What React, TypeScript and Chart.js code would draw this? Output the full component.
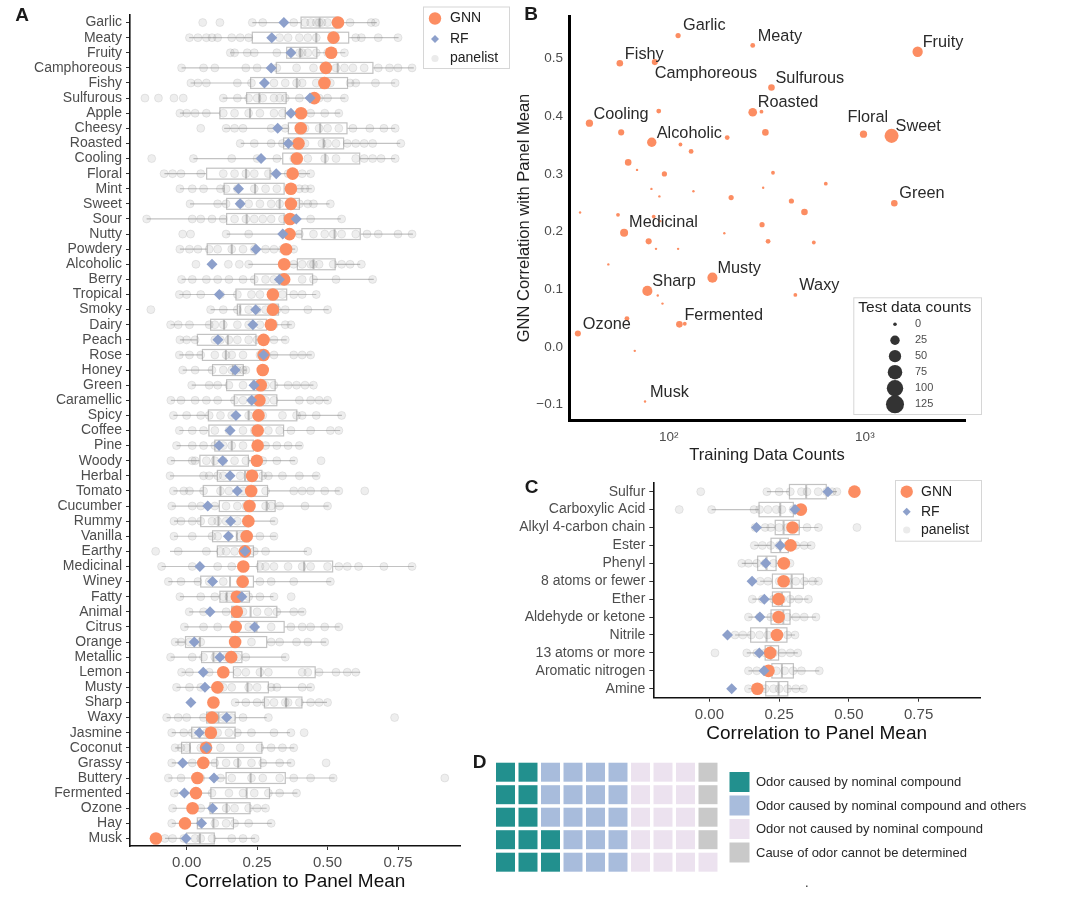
import React, { useEffect, useRef } from 'react';
import { Chart, registerables } from 'chart.js';
Chart.register(...registerables);

const FONT = "'Liberation Sans', Arial, Helvetica, sans-serif";
const ORANGE = '#FC8D62';
const BLUE = '#8DA0CB';
const AXIS_TEXT = '#4D4D4D';
const BOX_LINE = '#C2C2C2';

// ---------------- Panel A ----------------
const A_LABELS = ['Garlic', 'Meaty', 'Fruity', 'Camphoreous', 'Fishy', 'Sulfurous', 'Apple', 'Cheesy', 'Roasted', 'Cooling', 'Floral', 'Mint', 'Sweet', 'Sour', 'Nutty', 'Powdery', 'Alcoholic', 'Berry', 'Tropical', 'Smoky', 'Dairy', 'Peach', 'Rose', 'Honey', 'Green', 'Caramellic', 'Spicy', 'Coffee', 'Pine', 'Woody', 'Herbal', 'Tomato', 'Cucumber', 'Rummy', 'Vanilla', 'Earthy', 'Medicinal', 'Winey', 'Fatty', 'Animal', 'Citrus', 'Orange', 'Metallic', 'Lemon', 'Musty', 'Sharp', 'Waxy', 'Jasmine', 'Coconut', 'Grassy', 'Buttery', 'Fermented', 'Ozone', 'Hay', 'Musk'];

const A_GNN = [0.537, 0.521, 0.513, 0.494, 0.489, 0.453, 0.406, 0.405, 0.397, 0.391, 0.376, 0.37, 0.37, 0.367, 0.365, 0.353, 0.346, 0.346, 0.306, 0.306, 0.299, 0.273, 0.273, 0.27, 0.263, 0.258, 0.255, 0.252, 0.252, 0.249, 0.232, 0.229, 0.223, 0.219, 0.213, 0.207, 0.201, 0.199, 0.178, 0.178, 0.174, 0.172, 0.158, 0.13, 0.109, 0.095, 0.09, 0.086, 0.069, 0.059, 0.038, 0.033, 0.021, -0.006, -0.109];

const A_RF = [0.345, 0.302, 0.37, 0.30, 0.276, 0.438, 0.37, 0.323, 0.361, 0.264, 0.318, 0.184, 0.19, 0.389, 0.341, 0.246, 0.09, 0.329, 0.116, 0.245, 0.235, 0.111, 0.273, 0.172, 0.239, 0.231, 0.175, 0.154, 0.115, 0.128, 0.154, 0.18, 0.075, 0.156, 0.148, 0.207, 0.047, 0.092, 0.196, 0.083, 0.241, 0.027, 0.118, 0.059, 0.065, 0.015, 0.142, 0.045, 0.071, -0.014, 0.097, -0.008, 0.092, 0.053, -0.002];

// [lower whisker, q1, median, q3, upper whisker]
const A_BOX = [
  [0.233, 0.406, 0.472, 0.533, 0.675], [0.009, 0.233, 0.46, 0.575, 0.752], [0.154, 0.355, 0.403, 0.462, 0.563],
  [-0.018, 0.318, 0.536, 0.661, 0.806], [0.014, 0.227, 0.391, 0.571, 0.74], [0.128, 0.213, 0.258, 0.353, 0.563],
  [-0.024, 0.118, 0.225, 0.35, 0.545], [0.133, 0.361, 0.474, 0.569, 0.74], [0.192, 0.344, 0.486, 0.557, 0.758],
  [0.024, 0.341, 0.492, 0.614, 0.74], [-0.079, 0.071, 0.211, 0.296, 0.438], [-0.024, 0.133, 0.243, 0.346, 0.444],
  [0.012, 0.142, 0.33, 0.40, 0.507], [-0.142, 0.142, 0.213, 0.346, 0.547], [0.142, 0.409, 0.525, 0.616, 0.803],
  [-0.024, 0.073, 0.16, 0.243, 0.385], [0.219, 0.393, 0.45, 0.527, 0.616], [-0.018, 0.241, 0.33, 0.447, 0.664],
  [-0.026, 0.175, 0.30, 0.355, 0.46], [0.085, 0.18, 0.19, 0.326, 0.504], [-0.057, 0.085, 0.133, 0.284, 0.373],
  [-0.024, 0.038, 0.146, 0.246, 0.355], [-0.026, 0.056, 0.139, 0.267, 0.444], [-0.014, 0.092, 0.164, 0.201, 0.213],
  [0.018, 0.142, 0.237, 0.314, 0.45], [-0.056, 0.169, 0.267, 0.32, 0.504], [-0.047, 0.077, 0.22, 0.391, 0.551],
  [-0.026, 0.079, 0.24, 0.344, 0.545], [-0.036, 0.10, 0.16, 0.237, 0.409], [-0.056, 0.047, 0.095, 0.219, 0.385],
  [-0.059, 0.109, 0.207, 0.267, 0.468], [-0.047, 0.059, 0.12, 0.287, 0.543], [-0.053, 0.116, 0.284, 0.314, 0.504],
  [-0.045, 0.05, 0.113, 0.219, 0.314], [-0.045, 0.092, 0.178, 0.219, 0.318], [-0.059, 0.109, 0.2, 0.237, 0.427],
  [-0.089, 0.252, 0.417, 0.518, 0.806], [-0.065, 0.05, 0.154, 0.237, 0.513], [-0.024, 0.118, 0.142, 0.223, 0.308],
  [0.009, 0.16, 0.227, 0.32, 0.417], [-0.008, 0.16, 0.248, 0.346, 0.543], [-0.041, -0.004, 0.047, 0.284, 0.495],
  [-0.057, 0.053, 0.095, 0.196, 0.353], [-0.018, 0.166, 0.264, 0.456, 0.616], [-0.036, 0.113, 0.216, 0.29, 0.444],
  [0.172, 0.276, 0.353, 0.409, 0.498], [-0.071, 0.071, 0.113, 0.172, 0.284], [-0.053, 0.018, 0.047, 0.172, 0.367],
  [-0.041, -0.018, 0.012, 0.267, 0.382], [-0.053, 0.107, 0.183, 0.263, 0.371], [-0.065, 0.14, 0.227, 0.35, 0.525],
  [-0.044, 0.086, 0.213, 0.294, 0.393], [-0.05, 0.083, 0.142, 0.225, 0.284], [-0.053, 0.038, 0.095, 0.166, 0.302],
  [-0.077, 0.0, 0.047, 0.098, 0.243],
];

const A_PANEL = [
  [0.057, 0.118, 0.233, 0.27, 0.38, 0.42, 0.44, 0.46, 0.47, 0.48, 0.5, 0.53, 0.58, 0.655, 0.67],
  [0.01, 0.04, 0.07, 0.09, 0.11, 0.16, 0.19, 0.22, 0.33, 0.36, 0.40, 0.43, 0.46, 0.52, 0.6, 0.62, 0.68, 0.75],
  [0.155, 0.17, 0.215, 0.24, 0.32, 0.37, 0.4, 0.41, 0.43, 0.46, 0.5, 0.56],
  [-0.018, 0.06, 0.1, 0.21, 0.25, 0.32, 0.39, 0.45, 0.5, 0.53, 0.56, 0.59, 0.63, 0.68, 0.72, 0.75, 0.8],
  [0.015, 0.04, 0.07, 0.18, 0.23, 0.31, 0.35, 0.39, 0.41, 0.46, 0.51, 0.58, 0.6, 0.67, 0.74],
  [-0.148, -0.1, -0.045, -0.012, 0.13, 0.18, 0.22, 0.25, 0.27, 0.31, 0.33, 0.35, 0.4, 0.47, 0.5, 0.56],
  [-0.024, 0.0, 0.03, 0.07, 0.13, 0.17, 0.22, 0.26, 0.31, 0.34, 0.44, 0.49, 0.54],
  [0.05, 0.14, 0.17, 0.2, 0.3, 0.35, 0.42, 0.47, 0.5, 0.54, 0.59, 0.65, 0.7, 0.74],
  [0.19, 0.24, 0.3, 0.34, 0.38, 0.42, 0.48, 0.5, 0.53, 0.57, 0.6, 0.63, 0.66, 0.76],
  [-0.124, 0.024, 0.16, 0.25, 0.32, 0.38, 0.43, 0.49, 0.53, 0.6, 0.63, 0.66, 0.69, 0.74],
  [-0.08, -0.05, -0.02, 0.05, 0.13, 0.17, 0.21, 0.24, 0.29, 0.36, 0.41, 0.44],
  [-0.024, 0.02, 0.06, 0.12, 0.14, 0.18, 0.24, 0.28, 0.32, 0.4, 0.42, 0.44],
  [0.012, 0.11, 0.14, 0.19, 0.22, 0.26, 0.3, 0.33, 0.4, 0.43, 0.45, 0.51],
  [-0.142, 0.02, 0.05, 0.09, 0.13, 0.17, 0.21, 0.24, 0.27, 0.3, 0.34, 0.38, 0.44, 0.55],
  [-0.014, 0.014, 0.14, 0.22, 0.4, 0.45, 0.49, 0.52, 0.55, 0.6, 0.64, 0.68, 0.75, 0.8],
  [-0.024, 0.01, 0.04, 0.08, 0.11, 0.16, 0.2, 0.24, 0.28, 0.31, 0.34, 0.38],
  [0.033, 0.148, 0.187, 0.22, 0.38, 0.41, 0.44, 0.45, 0.47, 0.52, 0.55, 0.58, 0.62],
  [-0.018, 0.02, 0.07, 0.11, 0.15, 0.2, 0.24, 0.28, 0.31, 0.35, 0.41, 0.45, 0.53, 0.66],
  [-0.026, 0.0, 0.05, 0.12, 0.18, 0.23, 0.26, 0.3, 0.34, 0.38, 0.41, 0.46],
  [-0.127, 0.085, 0.13, 0.18, 0.22, 0.25, 0.28, 0.32, 0.35, 0.43, 0.5],
  [-0.057, -0.03, 0.01, 0.08, 0.1, 0.13, 0.18, 0.22, 0.26, 0.31, 0.35, 0.37],
  [-0.024, 0.0, 0.03, 0.1, 0.12, 0.15, 0.18, 0.22, 0.25, 0.31, 0.35],
  [-0.026, 0.01, 0.05, 0.1, 0.14, 0.16, 0.2, 0.26, 0.31, 0.38, 0.41, 0.44],
  [-0.014, 0.03, 0.09, 0.13, 0.16, 0.18, 0.2, 0.21],
  [0.018, 0.08, 0.11, 0.15, 0.2, 0.24, 0.28, 0.31, 0.36, 0.39, 0.42, 0.45],
  [-0.056, -0.02, 0.03, 0.07, 0.11, 0.17, 0.2, 0.23, 0.28, 0.31, 0.4, 0.44, 0.47, 0.5],
  [-0.047, 0.0, 0.05, 0.08, 0.12, 0.16, 0.22, 0.27, 0.34, 0.39, 0.41, 0.46, 0.55],
  [-0.026, 0.02, 0.06, 0.1, 0.15, 0.2, 0.24, 0.29, 0.33, 0.37, 0.44, 0.51, 0.54],
  [-0.036, 0.02, 0.06, 0.1, 0.13, 0.16, 0.2, 0.25, 0.28, 0.32, 0.36, 0.4],
  [-0.056, 0.02, 0.03, 0.07, 0.1, 0.13, 0.17, 0.21, 0.27, 0.32, 0.38, 0.477],
  [-0.059, 0.06, 0.08, 0.11, 0.13, 0.19, 0.23, 0.27, 0.29, 0.34, 0.4, 0.46],
  [-0.047, -0.01, 0.01, 0.06, 0.12, 0.15, 0.2, 0.28, 0.38, 0.41, 0.44, 0.49, 0.54, 0.632],
  [-0.053, 0.02, 0.05, 0.1, 0.14, 0.18, 0.21, 0.28, 0.3, 0.33, 0.42, 0.5],
  [-0.045, -0.02, 0.02, 0.05, 0.09, 0.11, 0.14, 0.18, 0.22, 0.31],
  [-0.045, 0.02, 0.09, 0.11, 0.15, 0.19, 0.22, 0.26, 0.31],
  [-0.11, -0.03, 0.07, 0.12, 0.14, 0.17, 0.2, 0.24, 0.28, 0.43],
  [-0.089, 0.02, 0.11, 0.16, 0.26, 0.28, 0.31, 0.36, 0.41, 0.44, 0.5, 0.54, 0.57, 0.61, 0.7, 0.8],
  [-0.065, -0.02, 0.04, 0.08, 0.13, 0.19, 0.26, 0.3, 0.38, 0.51],
  [-0.024, 0.05, 0.1, 0.13, 0.15, 0.19, 0.22, 0.26, 0.31, 0.371],
  [0.009, 0.06, 0.14, 0.2, 0.25, 0.29, 0.32, 0.38, 0.41],
  [-0.008, 0.06, 0.11, 0.17, 0.22, 0.3, 0.37, 0.41, 0.44, 0.49, 0.54],
  [-0.041, -0.02, 0.01, 0.05, 0.17, 0.23, 0.3, 0.33, 0.39, 0.43, 0.49],
  [-0.057, 0.02, 0.06, 0.1, 0.14, 0.18, 0.21, 0.35],
  [-0.018, 0.01, 0.08, 0.18, 0.21, 0.26, 0.29, 0.41, 0.43, 0.47, 0.53, 0.57, 0.6],
  [-0.036, 0.01, 0.05, 0.13, 0.16, 0.22, 0.25, 0.3, 0.32, 0.41, 0.44],
  [0.172, 0.21, 0.25, 0.28, 0.31, 0.35, 0.36, 0.4, 0.44, 0.47, 0.5],
  [-0.071, -0.03, 0.0, 0.06, 0.1, 0.13, 0.16, 0.2, 0.29, 0.738],
  [-0.053, -0.01, 0.02, 0.07, 0.11, 0.15, 0.18, 0.23, 0.31, 0.37, 0.417],
  [-0.041, -0.02, 0.0, 0.05, 0.12, 0.19, 0.26, 0.3, 0.34, 0.38],
  [-0.053, 0.02, 0.1, 0.14, 0.18, 0.23, 0.27, 0.33, 0.37, 0.495],
  [-0.065, -0.02, 0.05, 0.12, 0.16, 0.23, 0.27, 0.33, 0.38, 0.44, 0.52, 0.916],
  [-0.044, 0.03, 0.09, 0.15, 0.2, 0.24, 0.29, 0.33, 0.39],
  [-0.05, 0.05, 0.09, 0.14, 0.17, 0.22, 0.25, 0.28],
  [-0.053, 0.0, 0.05, 0.1, 0.14, 0.17, 0.22, 0.3],
  [-0.077, -0.05, -0.01, 0.03, 0.05, 0.09, 0.16, 0.2, 0.243],
];

const CORR_TICKS = [0, 0.25, 0.5, 0.75];
const CORR_MIN = -0.201;
const CORR_MAX = 0.97;

// ---------------- Panel B ----------------
const B_NAMES = ['Garlic', 'Meaty', 'Fruity', 'Fishy', 'Camphoreous', 'Sulfurous', 'Roasted', '', 'Cooling', '', '', 'Alcoholic', '', '', 'Floral', 'Sweet', '', '', '', '', '', '', '', '', '', '', '', '', '', '', 'Green', '', '', '', '', '', '', 'Medicinal', '', '', '', '', '', '', 'Musty', 'Sharp', '', '', 'Waxy', '', 'Fermented', '', 'Ozone', '', 'Musk'];
const B_TRAIN = [111.6, 268, 1858, 56.3, 84.9, 334, 268, 297, 39.4, 88.9, 57.2, 81.9, 198.6, 311, 984, 1368, 114.7, 130, 62.1, 68.9, 95, 340, 632, 81.6, 133.6, 303, 89.6, 208, 422, 492, 1413, 35.3, 55.1, 83.8, 90.6, 299, 192, 59.2, 79, 86.1, 111.6, 321, 549, 49.2, 167, 77.8, 87.9, 92.9, 442, 61.2, 113.3, 120.7, 34.4, 67.1, 75.7];
const B_GNN = [0.540, 0.523, 0.512, 0.492, 0.494, 0.45, 0.407, 0.408, 0.388, 0.409, 0.372, 0.355, 0.363, 0.372, 0.369, 0.366, 0.351, 0.339, 0.32, 0.307, 0.30, 0.302, 0.283, 0.274, 0.27, 0.276, 0.261, 0.259, 0.253, 0.234, 0.249, 0.233, 0.229, 0.226, 0.218, 0.212, 0.197, 0.198, 0.183, 0.17, 0.17, 0.183, 0.181, 0.143, 0.12, 0.097, 0.089, 0.075, 0.09, 0.049, 0.039, 0.04, 0.023, -0.007, -0.095];
const B_TEST = [4, 3, 32, 9, 7, 9, 20, 1, 12, 3, 7, 25, 3, 9, 12, 69, 1, 3, 9, 0, 4, 1, 1, 0, 0, 0, 0, 4, 4, 9, 9, 0, 1, 1, 0, 4, 0, 16, 7, 0, 0, 3, 1, 0, 30, 30, 0, 0, 1, 3, 9, 1, 7, 0, 0];
const B_SIZE_BREAKS = [0, 25, 50, 75, 100, 125];
const B_YTICKS = [-0.1, 0, 0.1, 0.2, 0.3, 0.4, 0.5];
const B_XTICKS = [100, 1000];

// ---------------- Panel C ----------------
const C_LABELS = ['Sulfur', 'Carboxylic Acid', 'Alkyl 4-carbon chain', 'Ester', 'Phenyl', '8 atoms or fewer', 'Ether', 'Aldehyde or ketone', 'Nitrile', '13 atoms or more', 'Aromatic nitrogen', 'Amine'];
const C_GNN = [0.52, 0.328, 0.298, 0.291, 0.267, 0.266, 0.248, 0.248, 0.242, 0.218, 0.212, 0.172];
const C_RF = [0.425, 0.307, 0.169, 0.254, 0.202, 0.153, 0.197, 0.181, 0.065, 0.179, 0.196, 0.08];
const C_BOX = [
  [0.206, 0.287, 0.347, 0.419, 0.457], [0.008, 0.178, 0.254, 0.301, 0.331], [0.164, 0.236, 0.266, 0.322, 0.391],
  [0.161, 0.221, 0.254, 0.283, 0.365], [0.116, 0.173, 0.205, 0.239, 0.289], [0.182, 0.226, 0.295, 0.337, 0.391],
  [0.154, 0.226, 0.26, 0.289, 0.355], [0.14, 0.221, 0.265, 0.289, 0.382], [0.092, 0.148, 0.205, 0.278, 0.307],
  [0.134, 0.20, 0.22, 0.248, 0.317], [0.14, 0.224, 0.26, 0.301, 0.394], [0.14, 0.202, 0.248, 0.281, 0.337],
];
const C_PANEL = [
  [-0.031, 0.206, 0.25, 0.29, 0.33, 0.35, 0.39, 0.42, 0.44, 0.457],
  [-0.108, 0.008, 0.16, 0.18, 0.21, 0.24, 0.26, 0.3, 0.33],
  [0.164, 0.2, 0.22, 0.25, 0.28, 0.31, 0.35, 0.391, 0.529],
  [0.161, 0.19, 0.22, 0.25, 0.28, 0.31, 0.34, 0.365],
  [0.116, 0.14, 0.17, 0.2, 0.23, 0.26, 0.289],
  [0.182, 0.21, 0.25, 0.28, 0.31, 0.34, 0.37, 0.391],
  [0.154, 0.19, 0.23, 0.26, 0.29, 0.32, 0.355],
  [0.14, 0.18, 0.22, 0.25, 0.28, 0.31, 0.34, 0.382],
  [0.092, 0.12, 0.15, 0.18, 0.21, 0.25, 0.28, 0.307],
  [0.02, 0.134, 0.17, 0.2, 0.23, 0.26, 0.29, 0.317],
  [0.14, 0.17, 0.2, 0.24, 0.27, 0.3, 0.33, 0.394],
  [0.14, 0.17, 0.2, 0.23, 0.25, 0.28, 0.31, 0.337],
];

// ---------------- Panel D ----------------
const D_CATEGORIES = ['Odor caused by nominal compound', 'Odor caused by nominal compound and others', 'Odor not caused by nominal compound', 'Cause of odor cannot be determined'];
const D_COUNTS = [12, 18, 16, 4];
const D_COLORS = ['#22908E', '#A8BCDC', '#ECE2EF', '#C9C9C9'];
const D_ROWS = 5;

// ---------------- helpers ----------------
const sizeOf = (n: number) => 1.2 + 0.7 * Math.sqrt(n);

const font = (size: number, weight: string = 'normal') => ({ family: FONT, size, weight });

function boxPlugin(stats: number[][], halfFrac: number) {
  return {
    id: 'boxes',
    beforeDatasetsDraw(chart: any) {
      const { ctx } = chart;
      const xs = chart.scales.x;
      const ys = chart.scales.y;
      const pitch = Math.abs(ys.getPixelForValue(1) - ys.getPixelForValue(0));
      const h = pitch * halfFrac;
      ctx.save();
      ctx.strokeStyle = BOX_LINE;
      stats.forEach((s, i) => {
        const [lo, q1, med, q3, hi] = s.map((v) => xs.getPixelForValue(v));
        const yc = ys.getPixelForValue(i);
        ctx.lineWidth = 1.2;
        ctx.beginPath();
        ctx.moveTo(lo, yc);
        ctx.lineTo(q1, yc);
        ctx.moveTo(q3, yc);
        ctx.lineTo(hi, yc);
        ctx.stroke();
        ctx.strokeRect(q1, yc - h, q3 - q1, 2 * h);
        ctx.lineWidth = 2;
        ctx.beginPath();
        ctx.moveTo(med, yc - h);
        ctx.lineTo(med, yc + h);
        ctx.stroke();
      });
      ctx.restore();
    },
  };
}

function drawPanelLabel(ctx: any, text: string, x: number, y: number) {
  ctx.save();
  ctx.fillStyle = '#1a1a1a';
  ctx.font = `bold 19px ${FONT}`;
  ctx.textAlign = 'center';
  ctx.textBaseline = 'middle';
  ctx.fillText(text, x, y);
  ctx.restore();
}

function drawPointLegend(ctx: any, bx: number, by: number, bw: number, bh: number, symX: number, rowsY: number[], textX: number) {
  ctx.save();
  ctx.strokeStyle = '#D6D6D6';
  ctx.lineWidth = 1;
  ctx.strokeRect(bx + 0.5, by + 0.5, bw, bh);
  ctx.fillStyle = ORANGE;
  ctx.beginPath();
  ctx.arc(symX, rowsY[0], 6.2, 0, Math.PI * 2);
  ctx.fill();
  ctx.fillStyle = BLUE;
  ctx.beginPath();
  ctx.moveTo(symX, rowsY[1] - 4);
  ctx.lineTo(symX + 4, rowsY[1]);
  ctx.lineTo(symX, rowsY[1] + 4);
  ctx.lineTo(symX - 4, rowsY[1]);
  ctx.closePath();
  ctx.fill();
  ctx.fillStyle = '#EBEBEB';
  ctx.beginPath();
  ctx.arc(symX, rowsY[2], 3.6, 0, Math.PI * 2);
  ctx.fill();
  ctx.fillStyle = '#222';
  ctx.font = `14px ${FONT}`;
  ctx.textAlign = 'left';
  ctx.textBaseline = 'middle';
  ['GNN', 'RF', 'panelist'].forEach((t, i) => ctx.fillText(t, textX, rowsY[i]));
  ctx.restore();
}

function corrChartConfig(labels: string[], gnn: number[], rf: number[], panel: number[][], box: number[][], opts: any) {
  return {
    type: 'scatter',
    data: {
      datasets: [
        {
          label: 'RF',
          data: labels.map((l, i) => ({ x: rf[i], y: l })),
          pointStyle: 'rectRot',
          radius: 5.5,
          backgroundColor: BLUE,
          borderWidth: 0,
          order: 0,
        },
        {
          label: 'GNN',
          data: labels.map((l, i) => ({ x: gnn[i], y: l })),
          pointStyle: 'circle',
          radius: 6.3,
          backgroundColor: ORANGE,
          borderWidth: 0,
          order: 1,
        },
        {
          label: 'panelist',
          data: panel.flatMap((arr, i) => arr.map((v) => ({ x: v, y: labels[i] }))),
          pointStyle: 'circle',
          radius: 4,
          backgroundColor: 'rgba(100,100,100,0.11)',
          borderColor: 'rgba(100,100,100,0.16)',
          borderWidth: 0.8,
          order: 2,
        },
      ],
    },
    options: {
      responsive: false,
      animation: false,
      events: [],
      layout: { padding: opts.padding, autoPadding: false },
      plugins: { legend: { display: false }, tooltip: { enabled: false } },
      scales: {
        x: {
          type: 'linear',
          min: CORR_MIN,
          max: CORR_MAX,
          afterBuildTicks: (s: any) => {
            s.ticks = CORR_TICKS.map((v) => ({ value: v }));
          },
          afterFit: (s: any) => {
            s.height = opts.xHeight;
          },
          ticks: {
            callback: (v: any) => Number(v).toFixed(2),
            font: font(15),
            color: AXIS_TEXT,
            padding: 4,
            maxRotation: 0,
          },
          grid: { display: true, drawOnChartArea: false, drawTicks: true, tickLength: 4, color: '#333', lineWidth: 1 },
          border: { display: true, color: '#111', width: 1.6 },
          title: { display: true, text: 'Correlation to Panel Mean', font: font(19), color: '#111', padding: 0 },
        },
        y: {
          type: 'category',
          labels,
          offset: true,
          afterFit: (s: any) => {
            s.width = opts.yWidth;
          },
          ticks: { font: font(14), color: AXIS_TEXT, padding: 4, autoSkip: false },
          grid: { display: true, drawOnChartArea: false, drawTicks: true, tickLength: 4, color: '#333', lineWidth: 1, offset: false },
          border: { display: true, color: '#111', width: 1.6 },
        },
      },
    },
    plugins: [boxPlugin(box, opts.boxHalf), opts.decor],
  };
}

function makeA() {
  return corrChartConfig(A_LABELS, A_GNN, A_RF, A_PANEL, A_BOX, {
    padding: { top: 15, right: 55, left: 0, bottom: 6 },
    xHeight: 47,
    yWidth: 130,
    boxHalf: 0.36,
    decor: {
      id: 'decorA',
      afterDraw(chart: any) {
        const ctx = chart.ctx;
        drawPanelLabel(ctx, 'A', 22, 16);
        drawPointLegend(ctx, 423, 6.5, 86, 61.5, 435, [18.5, 39, 58.5], 450);
      },
    },
  });
}

function makeC() {
  return corrChartConfig(C_LABELS, C_GNN, C_RF, C_PANEL, C_BOX, {
    padding: { top: 12.7, right: 15, left: 0, bottom: 5 },
    xHeight: 47.3,
    yWidth: 138.3,
    boxHalf: 0.4,
    decor: {
      id: 'decorC',
      afterDraw(chart: any) {
        const ctx = chart.ctx;
        drawPanelLabel(ctx, 'C', 16.5, 17.5);
        drawPointLegend(ctx, 380, 10, 86, 60.7, 391.7, [21.7, 41.7, 60], 406);
      },
    },
  });
}

const B_NUDGE: Record<string, [number, number]> = {
  Garlic: [5, -10], Meaty: [5, -9], Fruity: [5, -9], Fishy: [5, -9], Camphoreous: [0, 11], Sulfurous: [4, -9],
  Roasted: [5, -10], Cooling: [4, -9], Alcoholic: [5, -9], Floral: [-16, -17], Sweet: [4, -9], Green: [5, -10],
  Medicinal: [5, -10], Musty: [5, -9], Sharp: [5, -9], Waxy: [4, -9], Fermented: [5, -9], Ozone: [5, -9], Musk: [5, -9],
};

function makeB() {
  return {
    type: 'bubble',
    data: {
      datasets: [
        {
          label: 'GNN',
          data: B_TRAIN.map((t, i) => ({ x: t, y: B_GNN[i], r: sizeOf(B_TEST[i]) })),
          backgroundColor: ORANGE,
          borderWidth: 0,
        },
      ],
    },
    options: {
      responsive: false,
      animation: false,
      events: [],
      layout: { padding: { top: 16, right: 30, left: 0, bottom: 5 }, autoPadding: false },
      plugins: { legend: { display: false }, tooltip: { enabled: false } },
      scales: {
        x: {
          type: 'logarithmic',
          min: 31,
          max: 3240,
          afterBuildTicks: (s: any) => {
            s.ticks = B_XTICKS.map((v) => ({ value: v }));
          },
          afterFit: (s: any) => {
            s.height = 45;
          },
          ticks: {
            callback: (v: any) => (Number(v) === 100 ? '10²' : '10³'),
            font: font(13.5),
            color: AXIS_TEXT,
            padding: 9,
            maxRotation: 0,
          },
          grid: { display: false, drawTicks: false },
          border: { display: true, color: '#000', width: 3 },
          title: { display: true, text: 'Training Data Counts', font: font(16.5), color: '#222', padding: 0 },
        },
        y: {
          type: 'linear',
          min: -0.127,
          max: 0.574,
          afterBuildTicks: (s: any) => {
            s.ticks = B_YTICKS.map((v) => ({ value: v }));
          },
          afterFit: (s: any) => {
            s.width = 54;
          },
          ticks: {
            callback: (v: any) => {
              const n = Number(v);
              const t = Math.abs(n).toFixed(1);
              return n < -1e-9 ? '\u2212' + t : t;
            },
            font: font(13.5),
            color: AXIS_TEXT,
            padding: 6,
          },
          grid: { display: false, drawTicks: false },
          border: { display: true, color: '#000', width: 3 },
          title: { display: true, text: 'GNN Correlation with Panel Mean', font: font(16.5), color: '#222', padding: 0 },
        },
      },
    },
    plugins: [
      {
        id: 'decorB',
        afterDatasetsDraw(chart: any) {
          const { ctx } = chart;
          const xs = chart.scales.x;
          const ys = chart.scales.y;
          ctx.save();
          ctx.fillStyle = '#2a2a2a';
          ctx.font = `16.3px ${FONT}`;
          ctx.textAlign = 'left';
          ctx.textBaseline = 'middle';
          B_NAMES.forEach((n, i) => {
            if (!n) return;
            const [dx, dy] = B_NUDGE[n] || [5, -9];
            ctx.fillText(n, xs.getPixelForValue(B_TRAIN[i]) + dx, ys.getPixelForValue(B_GNN[i]) + dy);
          });
          ctx.restore();
        },
        afterDraw(chart: any) {
          const { ctx } = chart;
          drawPanelLabel(ctx, 'B', 16, 15);
          // size legend
          ctx.save();
          ctx.fillStyle = '#fff';
          ctx.fillRect(338.3, 297.3, 127.7, 116.7);
          ctx.strokeStyle = '#D6D6D6';
          ctx.lineWidth = 1;
          ctx.strokeRect(338.8, 297.8, 127.7, 116.7);
          ctx.fillStyle = '#222';
          ctx.font = `15.5px ${FONT}`;
          ctx.textAlign = 'left';
          ctx.textBaseline = 'middle';
          ctx.fillText('Test data counts', 343.3, 308);
          const ys = [324.3, 340.2, 356.2, 372.2, 388.2, 404.3];
          B_SIZE_BREAKS.forEach((b, i) => {
            ctx.fillStyle = '#333';
            ctx.beginPath();
            ctx.arc(380, ys[i], sizeOf(b) + (b === 0 ? 0.6 : 0), 0, Math.PI * 2);
            ctx.fill();
            ctx.fillStyle = AXIS_TEXT;
            ctx.font = `11px ${FONT}`;
            ctx.fillText(String(b), 400, ys[i]);
          });
          ctx.restore();
        },
      },
    ],
  };
}

function makeD() {
  const cells: { x: number; y: number }[] = [];
  const colors: string[] = [];
  let k = 0;
  D_COUNTS.forEach((c, ci) => {
    for (let j = 0; j < c; j++) {
      cells.push({ x: Math.floor(k / D_ROWS), y: k % D_ROWS });
      colors.push(D_COLORS[ci]);
      k++;
    }
  });
  return {
    type: 'scatter',
    data: {
      datasets: [
        {
          label: 'waffle',
          data: cells,
          pointStyle: 'rect',
          radius: 13.43,
          backgroundColor: colors,
          borderWidth: 0,
          clip: false,
        },
      ],
    },
    options: {
      responsive: false,
      animation: false,
      events: [],
      layout: { padding: { left: 0, top: 0, bottom: 0, right: 300 }, autoPadding: false },
      plugins: { legend: { display: false }, tooltip: { enabled: false } },
      scales: {
        x: { type: 'linear', display: false, min: -2.022, max: 11.311 },
        y: { type: 'linear', display: false, min: -1.636, max: 4.987 },
      },
    },
    plugins: [
      {
        id: 'decorD',
        afterDraw(chart: any) {
          const { ctx } = chart;
          drawPanelLabel(ctx, 'D', 19.5, 12.7);
          ctx.save();
          const tops = [22, 45.5, 69, 92.5];
          D_CATEGORIES.forEach((t, i) => {
            ctx.fillStyle = D_COLORS[i];
            ctx.fillRect(269.5, tops[i], 20, 20);
            ctx.fillStyle = '#2a2a2a';
            ctx.font = `13px ${FONT}`;
            ctx.textAlign = 'left';
            ctx.textBaseline = 'middle';
            ctx.fillText(t, 296, tops[i] + 10.5);
          });
          ctx.fillText('.', 345, 133);
          ctx.restore();
        },
      },
    ],
  };
}

function ChartCanvas({ make, left, top, width, height }: { make: () => any; left: number; top: number; width: number; height: number }) {
  const ref = useRef<HTMLCanvasElement>(null);
  useEffect(() => {
    const chart = new Chart(ref.current as HTMLCanvasElement, make());
    return () => chart.destroy();
  }, []);
  return (
    <canvas
      ref={ref}
      width={width}
      height={height}
      style={{ position: 'absolute', left, top, width, height, display: 'block' }}
    />
  );
}

export default function App() {
  return (
    <div style={{ position: 'absolute', left: 0, top: 0, width: 1080, height: 899, background: '#fff', overflow: 'hidden' }}>
      <ChartCanvas make={makeA} left={0} top={0} width={515} height={899} />
      <ChartCanvas make={makeB} left={515} top={0} width={480} height={470} />
      <ChartCanvas make={makeC} left={515} top={470} width={480} height={280} />
      <ChartCanvas make={makeD} left={460} top={750} width={600} height={149} />
    </div>
  );
}
